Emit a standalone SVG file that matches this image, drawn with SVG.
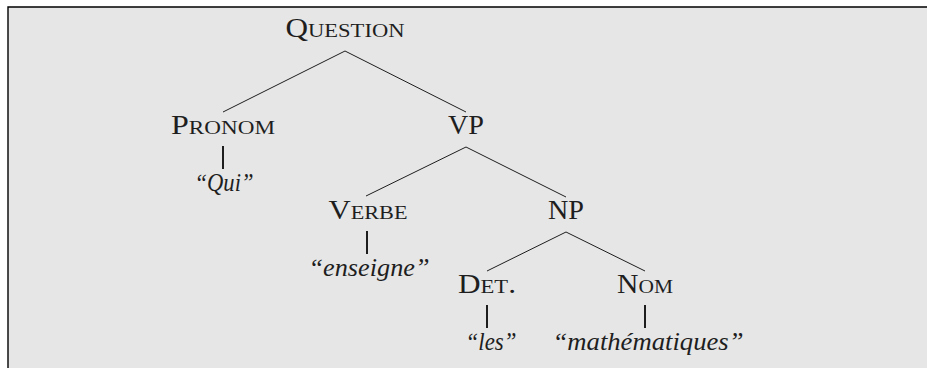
<svg xmlns="http://www.w3.org/2000/svg" width="927" height="368" viewBox="0 0 927 368">
<style>
  .lbl { font-family: "Liberation Serif", "Times New Roman", serif; font-size: 27px; fill: #1e1e1e; text-anchor: middle; }
  .sc { font-size: 19.5px; }
  .word { font-style: italic; font-size: 26px; }
  .edge { stroke: #1e1e1e; stroke-width: 1; fill: none; }
  .leaf { stroke: #1e1e1e; stroke-width: 2; fill: none; }
  .frame { stroke: #000000; stroke-width: 1.4; fill: none; }
</style>
<rect x="0" y="0" width="927" height="368" fill="#ffffff"/>
<rect x="8" y="7" width="919" height="361" fill="#e6e6e6"/>
<path class="frame" d="M8,368 L8,7 L927,7"/>
<g id="connectors">
  <path class="edge" d="M223,112 L345,51 L466,112"/>
  <path class="edge" d="M366,196 L466,147 L566,197"/>
  <path class="edge" d="M487,271 L566,232 L645,271"/>
  <line class="leaf" x1="223" y1="146" x2="223" y2="169"/>
  <line class="leaf" x1="367" y1="231" x2="367" y2="254"/>
  <line class="leaf" x1="487" y1="305" x2="487" y2="328"/>
  <line class="leaf" x1="645" y1="305" x2="645" y2="328"/>
</g>
<g id="question"><text class="lbl" x="345" y="37" textLength="119" lengthAdjust="spacingAndGlyphs">Q<tspan class="sc">UESTION</tspan></text></g>
<g id="pronom"><text class="lbl" x="223" y="134" textLength="104" lengthAdjust="spacingAndGlyphs">P<tspan class="sc">RONOM</tspan></text></g>
<g id="vp"><text class="lbl" x="466" y="134" textLength="36" lengthAdjust="spacingAndGlyphs">VP</text></g>
<g id="qui"><text class="lbl word" x="224" y="191" textLength="59" lengthAdjust="spacingAndGlyphs">“Qui”</text></g>
<g id="verbe"><text class="lbl" x="368" y="219" textLength="79" lengthAdjust="spacingAndGlyphs">V<tspan class="sc">ERBE</tspan></text></g>
<g id="np"><text class="lbl" x="566" y="219" textLength="36" lengthAdjust="spacingAndGlyphs">NP</text></g>
<g id="enseigne"><text class="lbl word" x="369" y="276" textLength="121" lengthAdjust="spacingAndGlyphs">“enseigne”</text></g>
<g id="det"><text class="lbl" x="487" y="293" textLength="58" lengthAdjust="spacingAndGlyphs">D<tspan class="sc">ET</tspan>.</text></g>
<g id="nom"><text class="lbl" x="645" y="293" textLength="56" lengthAdjust="spacingAndGlyphs">N<tspan class="sc">OM</tspan></text></g>
<g id="les"><text class="lbl word" x="491" y="350" textLength="51" lengthAdjust="spacingAndGlyphs">“les”</text></g>
<g id="mathematiques"><text class="lbl word" x="648" y="350" textLength="191" lengthAdjust="spacingAndGlyphs">“mathématiques”</text></g>
</svg>
